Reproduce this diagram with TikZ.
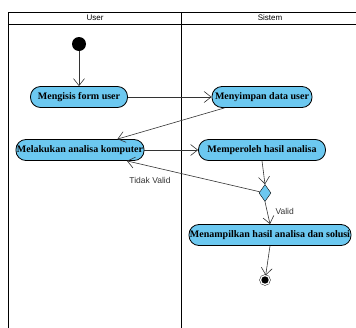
\documentclass[tikz,border=0pt]{standalone}
\usepackage{fontspec}
\setmainfont{Liberation Serif}
\newfontfamily\lanefont{Liberation Sans}
\usetikzlibrary{shapes.geometric,arrows.meta}
\definecolor{birumuda}{HTML}{6CC8F0}
\definecolor{garis}{HTML}{333333}
\tikzstyle{aksi} = [rectangle, rounded corners=10pt, minimum height=21pt, inner sep=1pt, text centered, draw=black, thick, fill=birumuda, font=\bfseries\fontsize{10}{11}\selectfont]
\tikzstyle{keputusan} = [diamond, draw=black, fill=birumuda, inner sep=0pt, minimum width=12pt, minimum height=17pt]
\tikzstyle{mulai} = [circle, fill=black, minimum size=14pt, inner sep=0pt]
\tikzstyle{akhir} = [circle, draw=black, fill=black, minimum size=9pt, inner sep=0pt, double=white, double distance=1.3pt]
\tikzstyle{connect} = [draw=garis, semithick, -{Straight Barb[length=7pt,width=11pt]}]
\tikzstyle{lajur} = [font=\lanefont\fontsize{8}{9}\selectfont]
\tikzstyle{label} = [font=\lanefont\fontsize{8.5}{10}\selectfont, text=garis]

\begin{document}
\begin{tikzpicture}[x=1pt,y=-1pt]
	\useasboundingbox (0,0) rectangle (356,327);
	\clip (0,0) rectangle (356,327);
	% swimlane
	\draw [thick] (8,340) -- (8,12) -- (370,12);
	\draw (8,24) -- (370,24);
	\draw [thick] (181,12) -- (181,340);
	\node (user) [lajur] at (95,18) {User};
	\node (sistem) [lajur] at (270,18) {Sistem};
	
	\node (start) [mulai] at (79,44) {};
	\node (mengisi) [aksi, minimum width=97pt] at (79,97) {Mengisis form user};
	\node (simpan) [aksi, minimum width=100pt] at (262,97) {Menyimpan data user};
	\node (analisa) [aksi, minimum width=127pt] at (80,150) {Melakukan analisa komputer};
	\node (hasil) [aksi, minimum width=127pt] at (262,150) {Memperoleh hasil analisa};
	\node (cek) [keputusan] at (265,193) {};
	\node (tampil) [aksi, minimum width=160pt] at (270,235) {Menampilkan hasil analisa dan solusi};
	\node (stop) [akhir] at (265,280) {};
	\node (tidak) [label] at (150,180) {Tidak Valid};
	\node (valid) [label, anchor=west] at (272,211) {Valid};
	
	\draw [connect] (start) -- (mengisi);
	\draw [connect] (mengisi) -- (simpan);
	\draw [connect] (simpan) -- (analisa);
	\draw [connect] (analisa) -- (hasil);
	\draw [connect] (hasil.south) -- (cek.north);
	\draw [connect] (cek) -- (analisa);
	\draw [connect] (cek.south) -- (tampil.north);
	\draw [connect] (tampil.south) -- (stop);
\end{tikzpicture}
\end{document}
